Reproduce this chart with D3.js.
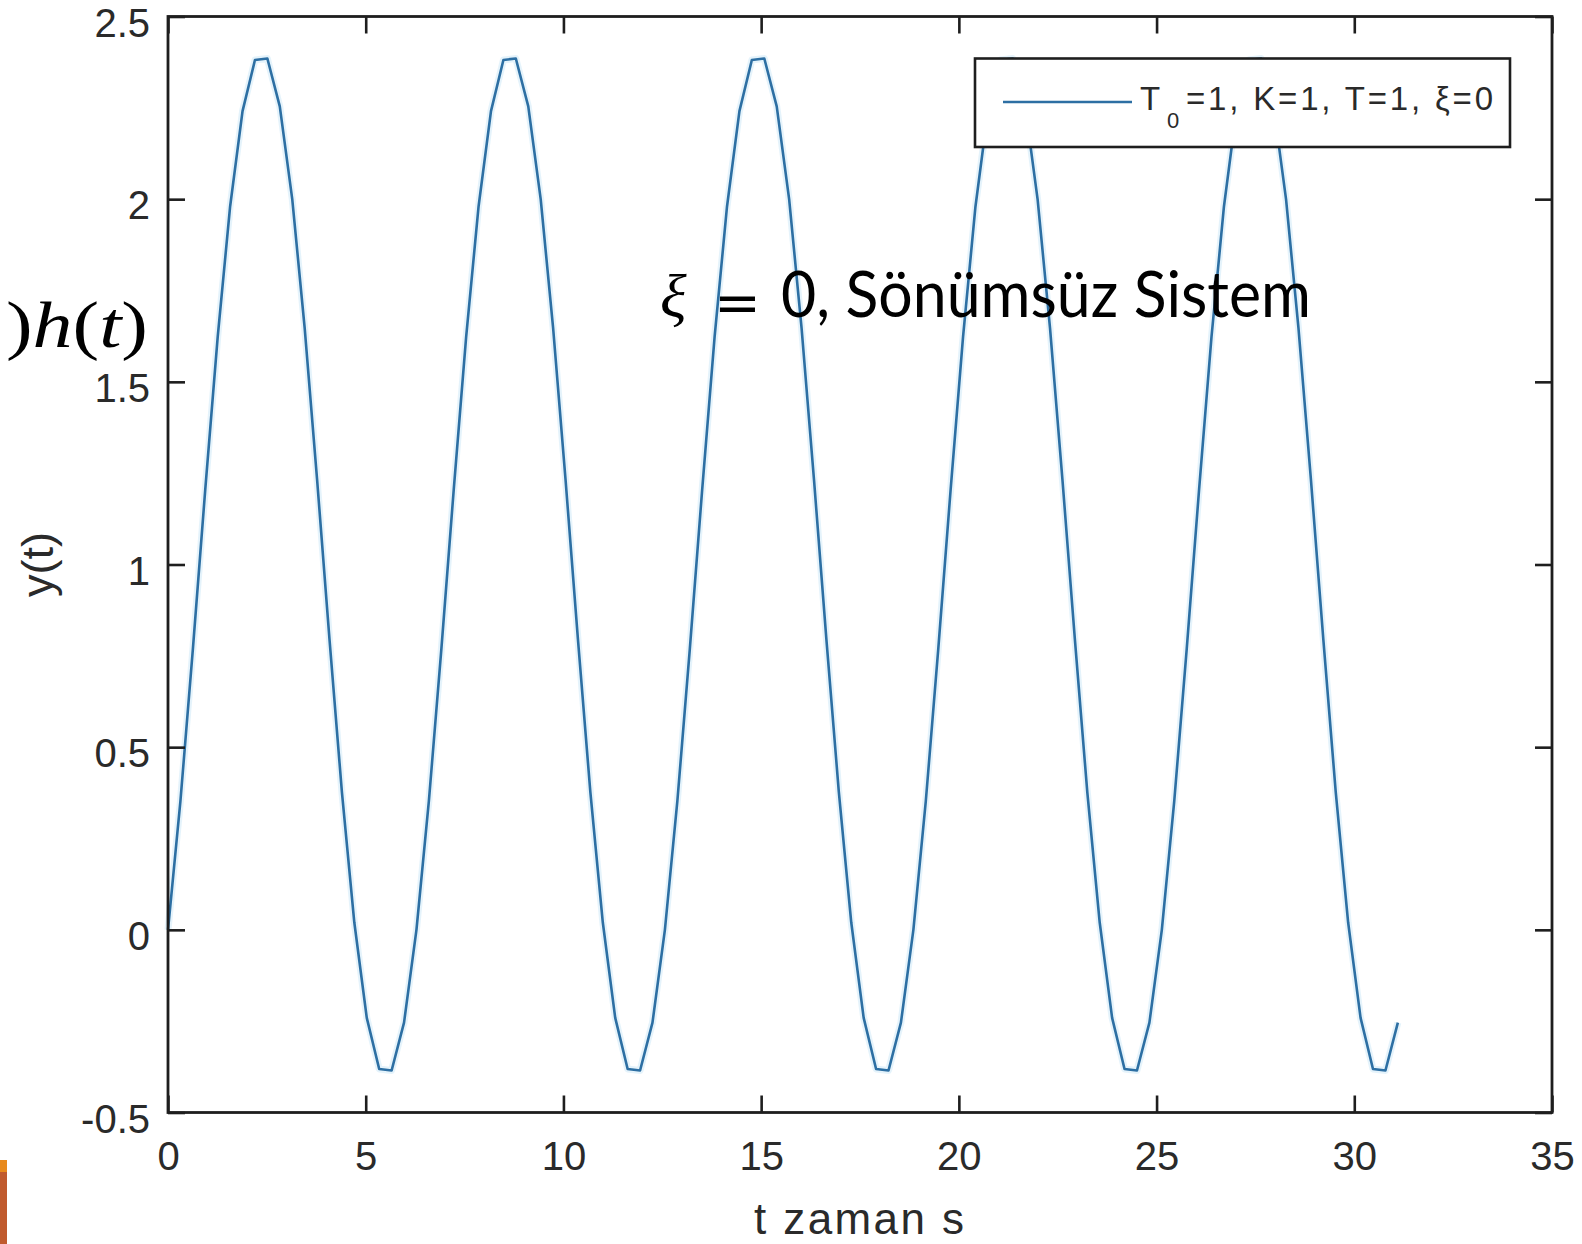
<!DOCTYPE html>
<html>
<head>
<meta charset="utf-8">
<script src="https://cdn.jsdelivr.net/npm/d3@7/dist/d3.min.js"></script>
<style>
  html, body { margin: 0; padding: 0; background: #ffffff; }
  svg { display: block; }
</style>
</head>
<body>
<svg id="chart" width="1582" height="1244"></svg>
<script>
// Undamped step response, sampled every pi/10 seconds
const timeSamples = [
  0, 0.314, 0.628, 0.942, 1.257, 1.571, 1.885, 2.199, 2.513, 2.827,
  3.142, 3.456, 3.770, 4.084, 4.398, 4.712, 5.027, 5.341, 5.655, 5.969,
  6.283, 6.597, 6.912, 7.226, 7.540, 7.854, 8.168, 8.482, 8.796, 9.111,
  9.425, 9.739, 10.053, 10.367, 10.681, 10.996, 11.310, 11.624, 11.938, 12.252,
  12.566, 12.881, 13.195, 13.509, 13.823, 14.137, 14.451, 14.765, 15.080, 15.394,
  15.708, 16.022, 16.336, 16.650, 16.965, 17.279, 17.593, 17.907, 18.221, 18.535,
  18.850, 19.164, 19.478, 19.792, 20.106, 20.420, 20.735, 21.049, 21.363, 21.677,
  21.991, 22.305, 22.619, 22.934, 23.248, 23.562, 23.876, 24.190, 24.504, 24.819,
  25.133, 25.447, 25.761, 26.075, 26.389, 26.704, 27.018, 27.332, 27.646, 27.960,
  28.274, 28.588, 28.903, 29.217, 29.531, 29.845, 30.159, 30.473, 30.788, 31.102
];
const responseValues = [
  0.000, 0.352, 0.767, 1.205, 1.623, 1.980, 2.241, 2.381, 2.385, 2.254,
  2.000, 1.648, 1.233, 0.795, 0.377, 0.020, -0.241, -0.381, -0.385, -0.254,
  0.000, 0.352, 0.767, 1.205, 1.623, 1.980, 2.241, 2.381, 2.385, 2.254,
  2.000, 1.648, 1.233, 0.795, 0.377, 0.020, -0.241, -0.381, -0.385, -0.254,
  0.000, 0.352, 0.767, 1.205, 1.623, 1.980, 2.241, 2.381, 2.385, 2.254,
  2.000, 1.648, 1.233, 0.795, 0.377, 0.020, -0.241, -0.381, -0.385, -0.254,
  0.000, 0.352, 0.767, 1.205, 1.623, 1.980, 2.241, 2.381, 2.385, 2.254,
  2.000, 1.648, 1.233, 0.795, 0.377, 0.020, -0.241, -0.381, -0.385, -0.254,
  0.000, 0.352, 0.767, 1.205, 1.623, 1.980, 2.241, 2.381, 2.385, 2.254,
  2.000, 1.648, 1.233, 0.795, 0.377, 0.020, -0.241, -0.381, -0.385, -0.254
];

const xTicks = [0, 5, 10, 15, 20, 25, 30, 35];
const xTickLabels = ["0", "5", "10", "15", "20", "25", "30", "35"];
const yTicks = [-0.5, 0, 0.5, 1, 1.5, 2, 2.5];
const yTickLabels = ["-0.5", "0", "0.5", "1", "1.5", "2", "2.5"];

const xDomain = [0, 35];
const yDomain = [-0.5, 2.5];

const legendLabel = { main: "T", sub: "0", rest: "=1, K=1, T=1, \u03BE=0" };
const xAxisTitle = "t zaman s";
const yAxisTitle = "y(t)";
const noteSymbol = "\u03BE";
const noteText = "0, S\u00F6n\u00FCms\u00FCz Sistem";

const plot = { left: 168, right: 1552, top: 16.5, bottom: 1112.5 };
const lineColor = "#2d6fa3";
const inkColor = "#1e1e1e";
const labelColor = "#2a2a2a";

const svg = d3.select("#chart");

const x = d3.scaleLinear().domain(xDomain).range([plot.left, plot.right]);
const y = d3.scaleLinear().domain(yDomain).range([plot.bottom, plot.top]);

// curve
const points = timeSamples.map((t, i) => [t, responseValues[i]]);
const line = d3.line().x(d => x(d[0])).y(d => y(d[1]));

svg.append("path")
  .datum(points)
  .attr("d", line)
  .attr("fill", "none")
  .attr("stroke", "#cfeaf8")
  .attr("stroke-width", 7)
  .attr("stroke-opacity", 0.55)
  .attr("stroke-linejoin", "round");

svg.append("path")
  .datum(points)
  .attr("d", line)
  .attr("fill", "none")
  .attr("stroke", lineColor)
  .attr("stroke-width", 2.6)
  .attr("stroke-linejoin", "round");

// axes with inward ticks on all four sides
const tickLen = 17;
const fontTick = "'Liberation Sans', Arial, sans-serif";

const gBottom = svg.append("g")
  .attr("transform", `translate(0,${plot.bottom})`)
  .call(d3.axisBottom(x).tickValues(xTicks)
    .tickFormat((d, i) => xTickLabels[i])
    .tickSizeInner(-tickLen).tickSizeOuter(0).tickPadding(29));

const gTop = svg.append("g")
  .attr("transform", `translate(0,${plot.top})`)
  .call(d3.axisTop(x).tickValues(xTicks).tickFormat("")
    .tickSizeInner(-tickLen).tickSizeOuter(0));

const gLeft = svg.append("g")
  .attr("transform", `translate(${plot.left},0)`)
  .call(d3.axisLeft(y).tickValues(yTicks)
    .tickFormat((d, i) => yTickLabels[i])
    .tickSizeInner(-tickLen).tickSizeOuter(0).tickPadding(18));

const gRight = svg.append("g")
  .attr("transform", `translate(${plot.right},0)`)
  .call(d3.axisRight(y).tickValues(yTicks).tickFormat("")
    .tickSizeInner(-tickLen).tickSizeOuter(0));

[gBottom, gTop, gLeft, gRight].forEach(g => {
  g.select(".domain").remove();
  g.selectAll(".tick line").attr("stroke", inkColor).attr("stroke-width", 2.6);
  g.selectAll(".tick text")
    .attr("fill", labelColor)
    .style("font-family", fontTick)
    .style("font-size", "40px");
});
gLeft.selectAll(".tick text").attr("dy", "0.49em");

// axes box
svg.append("rect")
  .attr("x", plot.left).attr("y", plot.top)
  .attr("width", plot.right - plot.left)
  .attr("height", plot.bottom - plot.top)
  .attr("fill", "none")
  .attr("stroke", inkColor)
  .attr("stroke-width", 2.8);

// axis titles
svg.append("text")
  .attr("x", (plot.left + plot.right) / 2 - 1)
  .attr("y", 1234)
  .attr("text-anchor", "middle")
  .attr("fill", labelColor)
  .attr("textLength", 210)
  .attr("lengthAdjust", "spacing")
  .style("font-family", fontTick)
  .style("font-size", "44px")
  .text(xAxisTitle);

svg.append("text")
  .attr("transform", `translate(53,${(plot.top + plot.bottom) / 2}) rotate(-90)`)
  .attr("text-anchor", "middle")
  .attr("fill", labelColor)
  .style("font-family", fontTick)
  .style("font-size", "45px")
  .text(yAxisTitle);

// legend
const legend = svg.append("g");
legend.append("rect")
  .attr("x", 975).attr("y", 58.5)
  .attr("width", 535).attr("height", 88.5)
  .attr("fill", "#ffffff")
  .attr("stroke", inkColor)
  .attr("stroke-width", 2.6);
legend.append("line")
  .attr("x1", 1003).attr("x2", 1132)
  .attr("y1", 102).attr("y2", 102)
  .attr("stroke", lineColor)
  .attr("stroke-width", 2.6);
legend.append("text")
  .attr("x", 1140).attr("y", 110)
  .attr("fill", labelColor)
  .style("font-family", fontTick).style("font-size", "33px")
  .text(legendLabel.main);
legend.append("text")
  .attr("x", 1167).attr("y", 128)
  .attr("fill", labelColor)
  .style("font-family", fontTick).style("font-size", "22px")
  .text(legendLabel.sub);
legend.append("text")
  .attr("x", 1186).attr("y", 110)
  .attr("fill", labelColor)
  .attr("textLength", 307)
  .attr("lengthAdjust", "spacing")
  .style("font-family", fontTick).style("font-size", "33px")
  .text(legendLabel.rest);

// annotation
const note = svg.append("g");
note.append("text")
  .attr("x", 660).attr("y", 317)
  .attr("fill", "#000")
  .style("font-family", "'Liberation Serif', 'DejaVu Serif', serif")
  .style("font-style", "italic")
  .style("font-size", "62px")
  .text(noteSymbol);
note.append("text")
  .attr("x", 714).attr("y", 322)
  .attr("fill", "#000")
  .style("font-family", "'DejaVu Sans', sans-serif")
  .style("font-size", "56px")
  .text("=");
note.append("text")
  .attr("x", 781).attr("y", 317)
  .attr("fill", "#000")
  .attr("textLength", 530)
  .attr("lengthAdjust", "spacingAndGlyphs")
  .style("font-family", "Lato, 'Open Sans', sans-serif")
  .style("font-size", "63px")
  .text(noteText);

// partial formula at the left edge: upright brackets, italic variables
const formula = svg.append("text")
  .attr("x", 6).attr("y", 347)
  .attr("fill", "#000")
  .attr("textLength", 142)
  .attr("lengthAdjust", "spacingAndGlyphs")
  .style("font-family", "'Liberation Serif', serif")
  .style("font-size", "66px");
[[")", "normal"], ["h", "italic"], ["(", "normal"], ["t", "italic"], [")", "normal"]]
  .forEach(([s, st]) => formula.append("tspan").style("font-style", st).text(s));

// slide accent strip at the bottom left
svg.append("rect").attr("x", 0).attr("y", 1160).attr("width", 7).attr("height", 12).attr("fill", "#e88a1c");
svg.append("rect").attr("x", 0).attr("y", 1172).attr("width", 7).attr("height", 72).attr("fill", "#c05a2e");
</script>
</body>
</html>
